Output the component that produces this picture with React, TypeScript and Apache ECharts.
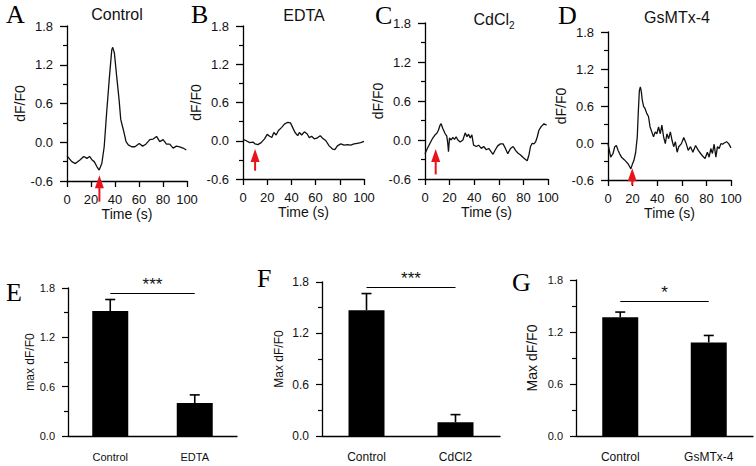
import React, { useEffect, useRef } from 'react';
import * as echarts from 'echarts';

const FONT = '"Liberation Sans", Arial, Helvetica, sans-serif';
const SERIF = '"Liberation Serif", "Times New Roman", serif';

// ---------- Trace panels (A-D): time (s) and dF/F0 ----------
const timeA = [0, 4, 7, 11, 14, 16.6, 18.8, 20.7, 22.7, 25, 26.8, 29, 31, 33, 35.4, 37.3, 38.1, 39.5, 41.4, 43.4, 44.8, 47, 49.2, 51.1, 53.9, 56.6, 60.2, 63, 65.7, 69, 71.8, 74.6, 77.3, 80.1, 82.9, 85.6, 88.4, 91.2, 93.9, 96.7, 99.4];
const valueA = [-0.21, -0.30, -0.33, -0.27, -0.22, -0.25, -0.22, -0.27, -0.30, -0.38, -0.43, -0.33, -0.07, 0.45, 1.02, 1.43, 1.47, 1.38, 1.02, 0.66, 0.35, 0.19, 0.01, -0.04, -0.07, -0.07, -0.02, -0.06, -0.03, 0.04, 0.05, 0.09, 0.01, 0.04, -0.03, -0.03, -0.09, -0.06, -0.07, -0.09, -0.12];

const timeB = [0, 2.7, 5.5, 8.2, 10, 12.3, 15, 17.8, 20, 22, 23.8, 25.5, 27.4, 29.3, 32, 34.2, 37, 39.2, 41, 43, 45.2, 46.6, 48.5, 50.7, 52.9, 54.8, 56.7, 58.9, 61, 63.8, 65.8, 68.5, 71.2, 74, 75.9, 78, 80.8, 83.6, 86.3, 89, 91.8, 94.5, 97.3, 100];
const valueB = [0.02, 0, -0.03, -0.02, -0.05, -0.06, -0.03, 0.03, 0.1, 0.07, 0.05, 0.13, 0.09, 0.16, 0.21, 0.26, 0.29, 0.28, 0.21, 0.13, 0.08, 0.13, 0.09, 0.14, 0.11, 0.05, 0.07, 0.03, 0.04, 0.08, 0.04, 0, -0.08, -0.13, -0.14, -0.08, -0.05, -0.07, -0.06, -0.07, -0.05, -0.04, -0.03, -0.01];

const timeC = [0, 1.9, 4.1, 6.3, 8.2, 9.5, 10.9, 12.3, 13.1, 14.4, 16.3, 17.7, 18.5, 19.1, 19.9, 21.3, 22.6, 24, 25.3, 26.7, 28.6, 30.8, 32.7, 34.1, 35.4, 36.8, 38.1, 39.5, 41.7, 43.6, 45.8, 47.7, 49.9, 51.8, 53.7, 55.3, 57.2, 59.1, 61.3, 63.5, 65.4, 67.3, 69.5, 71.7, 73.6, 75.5, 77.7, 79.8, 81.7, 83.1, 84.5, 85.8, 87.2, 88.6, 89.9, 91.3, 92.6, 94.6, 96.7, 98.9];
const valueC = [-0.21, -0.13, -0.05, 0.03, 0.08, 0.1, 0.15, 0.23, 0.25, 0.18, 0.1, 0.06, -0.05, -0.18, 0.03, 0, 0.04, 0.01, 0.05, 0, -0.03, 0, 0.11, 0.05, 0.09, 0.03, 0.08, -0.08, -0.1, -0.08, -0.13, -0.1, -0.15, -0.13, -0.18, -0.22, -0.15, -0.09, -0.06, -0.06, -0.13, -0.21, -0.13, -0.1, -0.16, -0.2, -0.23, -0.27, -0.3, -0.32, -0.23, -0.1, -0.05, -0.06, -0.03, 0.05, 0.15, 0.21, 0.25, 0.23];

const timeD = [0, 0.8, 2.2, 4.1, 5.5, 6.8, 8.2, 9.6, 11, 13.2, 15.1, 16.4, 17.8, 18.6, 19.7, 21.1, 22.5, 23.8, 24.7, 25.5, 26.3, 27.1, 27.9, 29, 30.1, 31.5, 32.9, 34.2, 35.6, 37, 38.4, 39.7, 41.1, 42.5, 43.8, 45.2, 46.6, 47.9, 49.3, 50.7, 52.1, 53.4, 54.8, 56.2, 57.5, 59.7, 61.6, 63.6, 65.2, 67.1, 69, 71.2, 73.4, 75.3, 77.3, 78.9, 80.8, 82.2, 83.6, 84.9, 86.3, 87.7, 89, 90.4, 91.8, 93.2, 94.5, 96.4, 98.1, 100];
const valueD = [-0.01, -0.09, -0.23, -0.17, -0.06, -0.04, -0.12, -0.18, -0.23, -0.27, -0.31, -0.34, -0.39, -0.42, -0.35, -0.28, -0.15, 0.1, 0.53, 0.85, 0.91, 0.83, 0.69, 0.59, 0.56, 0.48, 0.43, 0.26, 0.18, 0.1, 0.18, 0.15, 0.26, 0.15, 0.29, 0.1, -0.01, 0.15, 0.07, 0.18, 0.04, -0.06, 0.02, -0.15, -0.06, -0.01, 0.09, -0.01, -0.12, -0.06, -0.15, -0.04, -0.12, -0.17, -0.22, -0.25, -0.15, -0.23, -0.09, -0.17, -0.02, -0.23, -0.06, -0.09, -0.01, -0.02, 0, 0.02, -0.01, -0.08];

// stimulus arrows (time, tail value, tip value)
const arrowTime = [27, 10, 8.7, 19.7];
const arrowTail = [-0.92, -0.47, -0.53, -0.68];
const arrowTip = [-0.51, -0.13, -0.14, -0.41];

const traceTitles = ['Control', 'EDTA', 'CdCl2', 'GsMTx-4'];
const traceYTicks = [-0.6, 0.0, 0.6, 1.2, 1.8];
const timeTicks = [0, 20, 40, 60, 80, 100];

// ---------- Bar panels (E-G) ----------
const categoriesE = ['Control', 'EDTA'];
const meansE = [1.52, 0.40];
const semE = [0.14, 0.10];
const sigE = { level: 1.74, label: '***' };

const categoriesF = ['Control', 'CdCl2'];
const meansF = [1.47, 0.16];
const semF = [0.195, 0.09];
const sigF = { level: 1.74, label: '***' };

const categoriesG = ['Control', 'GsMTx-4'];
const meansG = [1.37, 1.08];
const semG = [0.06, 0.08];
const sigG = { level: 1.56, label: '*' };

const barYTicks = [0.0, 0.6, 1.2, 1.8];

const panelLetters = ['A', 'B', 'C', 'D', 'E', 'F', 'G'];

export default function App() {
  const ref = useRef<HTMLDivElement>(null);

  useEffect(() => {
    if (!ref.current) return;
    const chart = echarts.init(ref.current, null, { renderer: 'svg' });

    const times = [timeA, timeB, timeC, timeD];
    const values = [valueA, valueB, valueC, valueD];

    const traceGrids = [
      { left: 67, top: 26, width: 120, height: 155 },
      { left: 243, top: 26, width: 121, height: 153 },
      { left: 425, top: 23, width: 123, height: 156 },
      { left: 608, top: 32, width: 123, height: 148 },
    ];
    const barGrids = [
      { left: 68, top: 288, width: 169, height: 148 },
      { left: 322, top: 282, width: 178, height: 154 },
      { left: 576, top: 280, width: 177, height: 156 },
    ];
    const traceNameGaps = [32, 35, 34, 35];

    const black = '#000';
    const textColor = '#111';

    const grid: any[] = [...traceGrids, ...barGrids];
    const xAxis: any[] = [];
    const yAxis: any[] = [];
    const series: any[] = [];

    const yMin = traceYTicks[0];
    const yMax = traceYTicks[traceYTicks.length - 1];
    const yStep = traceYTicks[1] - traceYTicks[0];

    for (let i = 0; i < 4; i++) {
      xAxis.push({
        type: 'value',
        gridIndex: i,
        min: timeTicks[0],
        max: timeTicks[timeTicks.length - 1],
        interval: timeTicks[1] - timeTicks[0],
        axisLine: { show: true, onZero: false, lineStyle: { color: black, width: 1.3 } },
        axisTick: { show: true, length: 6, lineStyle: { color: black, width: 1.3 } },
        axisLabel: { fontSize: 13, fontFamily: FONT, color: textColor, margin: 12 },
        splitLine: { show: false },
        name: 'Time (s)',
        nameLocation: 'middle',
        nameGap: 25,
        nameTextStyle: { fontSize: 14, fontFamily: FONT, color: textColor },
      });
      yAxis.push({
        type: 'value',
        gridIndex: i,
        min: yMin,
        max: yMax,
        interval: yStep,
        axisLine: { show: true, onZero: false, lineStyle: { color: black, width: 1.3 } },
        axisTick: { show: true, length: 7, lineStyle: { color: black, width: 1.3 } },
        minorTick: { show: true, splitNumber: 2, length: 4, lineStyle: { color: black, width: 1.2 } },
        axisLabel: {
          fontSize: 13,
          fontFamily: FONT,
          color: textColor,
          margin: 14,
          formatter: (v: number) => v.toFixed(1),
        },
        splitLine: { show: false },
        minorSplitLine: { show: false },
        name: 'dF/F0',
        nameLocation: 'middle',
        nameGap: traceNameGaps[i],
        nameTextStyle: { fontSize: 14, fontFamily: FONT, color: textColor },
      });
      series.push({
        type: 'line',
        xAxisIndex: i,
        yAxisIndex: i,
        data: times[i].map((t, k) => [t, values[i][k]]),
        showSymbol: false,
        symbol: 'none',
        silent: true,
        lineStyle: { color: '#111', width: 1.3 },
      });
      // red stimulus arrow
      series.push({
        type: 'custom',
        xAxisIndex: i,
        yAxisIndex: i,
        silent: true,
        clip: false,
        z: 5,
        data: [[arrowTime[i], arrowTail[i], arrowTip[i]]],
        encode: { x: 0, y: [1, 2] },
        renderItem: (params: any, api: any) => {
          const t = api.value(0);
          const tail = api.coord([t, api.value(1)]);
          const tip = api.coord([t, api.value(2)]);
          const headLen = 13;
          const headHalf = 4.5;
          const red = '#e8141b';
          return {
            type: 'group',
            children: [
              {
                type: 'line',
                shape: { x1: tail[0], y1: tail[1], x2: tip[0], y2: tip[1] + headLen - 2 },
                style: { stroke: red, lineWidth: 2 },
              },
              {
                type: 'polygon',
                shape: {
                  points: [
                    [tip[0], tip[1]],
                    [tip[0] - headHalf, tip[1] + headLen],
                    [tip[0] + headHalf, tip[1] + headLen],
                  ],
                },
                style: { fill: red },
              },
            ],
          };
        },
      });
    }

    const barSets = [
      { cats: categoriesE, means: meansE, sem: semE, sig: sigE, yName: 'max dF/F0', nameSize: 12, nameGap: 32, catSize: 11, tickSize: 11 },
      { cats: categoriesF, means: meansF, sem: semF, sig: sigF, yName: 'Max dF/F0', nameSize: 12, nameGap: 37, catSize: 12, tickSize: 12 },
      { cats: categoriesG, means: meansG, sem: semG, sig: sigG, yName: 'Max dF/F0', nameSize: 14, nameGap: 37, catSize: 12, tickSize: 11 },
    ];

    barSets.forEach((b, j) => {
      const gi = 4 + j;
      xAxis.push({
        type: 'category',
        gridIndex: gi,
        data: b.cats,
        boundaryGap: true,
        axisLine: { show: true, onZero: false, lineStyle: { color: black, width: 1.3 } },
        axisTick: { show: false },
        axisLabel: { fontSize: b.catSize, fontFamily: FONT, color: textColor, margin: 15 },
        splitLine: { show: false },
      });
      yAxis.push({
        type: 'value',
        gridIndex: gi,
        min: barYTicks[0],
        max: barYTicks[barYTicks.length - 1],
        interval: barYTicks[1] - barYTicks[0],
        axisLine: { show: true, onZero: false, lineStyle: { color: black, width: 1.3 } },
        axisTick: { show: true, length: 6, lineStyle: { color: black, width: 1.2 } },
        minorTick: { show: true, splitNumber: 2, length: 4, lineStyle: { color: black, width: 1.2 } },
        axisLabel: {
          fontSize: b.tickSize,
          fontFamily: FONT,
          color: textColor,
          margin: 13,
          formatter: (v: number) => v.toFixed(1),
        },
        splitLine: { show: false },
        minorSplitLine: { show: false },
        name: b.yName,
        nameLocation: 'middle',
        nameGap: b.nameGap,
        nameTextStyle: { fontSize: b.nameSize, fontFamily: FONT, color: textColor },
      });
      series.push({
        type: 'bar',
        xAxisIndex: gi,
        yAxisIndex: gi,
        data: b.means,
        barWidth: 36,
        silent: true,
        itemStyle: { color: '#000' },
        markLine: {
          silent: true,
          symbol: ['none', 'none'],
          lineStyle: { color: black, width: 1.2, type: 'solid' },
          emphasis: { disabled: true },
          label: {
            show: true,
            position: 'middle',
            formatter: b.sig.label,
            fontSize: 17,
            fontFamily: FONT,
            color: textColor,
            distance: 0,
          },
          data: [[{ coord: [0, b.sig.level] }, { coord: [1, b.sig.level] }]],
        },
      });
      series.push({
        type: 'custom',
        xAxisIndex: gi,
        yAxisIndex: gi,
        silent: true,
        data: b.means.map((m, k) => [k, m, m + b.sem[k]]),
        encode: { x: 0, y: [1, 2] },
        renderItem: (params: any, api: any) => {
          const x = api.value(0);
          const lo = api.coord([x, api.value(1)]);
          const hi = api.coord([x, api.value(2)]);
          const st = { stroke: '#000', lineWidth: 1.6 };
          return {
            type: 'group',
            children: [
              { type: 'line', shape: { x1: lo[0], y1: lo[1], x2: hi[0], y2: hi[1] }, style: st },
              { type: 'line', shape: { x1: hi[0] - 5, y1: hi[1], x2: hi[0] + 5, y2: hi[1] }, style: st },
            ],
          };
        },
      });
    });

    const letterPos = [
      [6, 14], [191, 14], [375, 15.5], [558, 15],
      [6, 292.5], [257, 278.5], [512, 282.5],
    ];
    const titlePos = [[117, 14], [304, 15], [494, 17], [677, 17]];

    const graphic: any[] = [];
    panelLetters.forEach((L, k) => {
      graphic.push({
        type: 'text',
        x: letterPos[k][0],
        y: letterPos[k][1],
        silent: true,
        style: {
          text: L,
          fontSize: 26,
          fontFamily: SERIF,
          fill: '#000',
          align: 'left',
          verticalAlign: 'middle',
          textAlign: 'left',
          textVerticalAlign: 'middle',
        },
      });
    });
    traceTitles.forEach((t, k) => {
      const isCd = t === 'CdCl2';
      graphic.push({
        type: 'text',
        x: titlePos[k][0],
        y: titlePos[k][1],
        silent: true,
        style: isCd
          ? {
              text: '{a|CdCl}{b|2}',
              fill: textColor,
              align: 'center',
              verticalAlign: 'middle',
              textAlign: 'center',
              textVerticalAlign: 'middle',
              rich: {
                a: { fontSize: 16, fontFamily: FONT, color: textColor, lineHeight: 20, verticalAlign: 'bottom' },
                b: { fontSize: 10, fontFamily: FONT, color: textColor, lineHeight: 20, verticalAlign: 'bottom', padding: [0, 0, -3, 0] },
              },
            }
          : {
              text: t,
              fontSize: 16,
              fontFamily: FONT,
              fill: textColor,
              align: 'center',
              verticalAlign: 'middle',
              textAlign: 'center',
              textVerticalAlign: 'middle',
            },
      });
    });

    chart.setOption({
      animation: false,
      backgroundColor: '#fff',
      textStyle: { fontFamily: FONT },
      grid,
      xAxis,
      yAxis,
      series,
      graphic,
    });

    return () => chart.dispose();
  }, []);

  return (
    <div
      ref={ref}
      style={{ position: 'fixed', left: 0, top: 0, width: 756, height: 466, background: '#fff' }}
    />
  );
}
